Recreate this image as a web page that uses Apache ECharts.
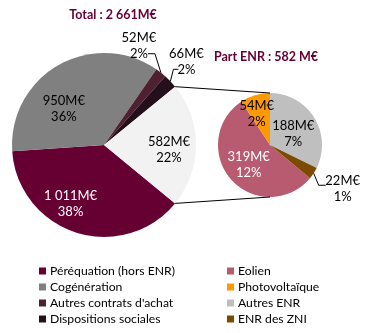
<!DOCTYPE html>
<html><head><meta charset="utf-8">
<script src="https://cdn.jsdelivr.net/npm/echarts@6/dist/echarts.min.js"></script>
<style>html,body{margin:0;padding:0;background:#fff}#c{width:383px;height:333px}</style>
</head><body><div id="c"></div>
<script>
// ---- data ----
const mainNames = ['Péréquation (hors ENR)', 'Cogénération', "Autres contrats d'achat", 'Dispositions sociales', 'Part ENR'];
const mainValues = [1011, 950, 52, 66, 582];
const mainLabels = ['1 011M€', '950M€', '52M€', '66M€', '582M€'];
const mainPct = ['38%', '36%', '2%', '2%', '22%'];
const enrNames = ['Eolien', 'Photovoltaïque', 'Autres ENR', 'ENR des ZNI'];
const enrValues = [319, 54, 188, 22];
const enrLabels = ['319M€', '54M€', '188M€', '22M€'];
const enrPct = ['12%', '2%', '7%', '1%'];
const titleMain = 'Total : 2 661M€';
const titleEnr = 'Part ENR : 582 M€';

// ---- style / geometry ----
const mainColors = ['#660033', '#808080', '#4f2030', '#24101a', '#f2f2f2'];
const enrColors = ['#b85b70', '#ff9900', '#bfbfbf', '#7d4b00'];
const FONT = 'Lato';
const C1 = [104, 145], R1 = 92, START1 = 129.4;   // compass degrees
const C2 = [270, 145], R2 = 52, START2 = 129.7;

function mids(vals, start) {
  const tot = vals.reduce((a, b) => a + b, 0);
  let a = start; const out = [], bounds = [];
  vals.forEach(v => { const s = v / tot * 360; bounds.push([a, a + s]); out.push(a + s / 2); a += s; });
  return { mids: out, bounds };
}
function pt(c, r, ang) { const t = ang * Math.PI / 180; return [c[0] + r * Math.sin(t), c[1] - r * Math.cos(t)]; }

const m1 = mids(mainValues, START1), m2 = mids(enrValues, START2);
// label tweaks (offset from polar position)
const k1 = 0.62, k2 = 0.55;
const tweak1 = [[-16, 4], [-12, 13], null, null, [8, 5]];
const tweak2 = [[0, 1], [-5, -4], [-1, 4], null];

const lbl = {
  fontFamily: FONT, fontSize: 13, lineHeight: 16, align: 'center', color: '#000'
};

const mainData = mainNames.map((n, i) => ({
  name: n, value: mainValues[i], itemStyle: { color: mainColors[i] },
  label: {
    show: true, position: (i === 2 || i === 3) ? 'outside' : 'inside',
    formatter: mainLabels[i] + '\n' + mainPct[i],
    color: i === 0 ? '#fff' : '#000'
  },
  labelLine: { show: i === 2 || i === 3, lineStyle: { color: '#000', width: 1 } }
}));
const enrData = enrNames.map((n, i) => ({
  name: n, value: enrValues[i], itemStyle: { color: enrColors[i] },
  label: {
    show: true, position: i === 3 ? 'outside' : 'inside',
    formatter: enrLabels[i] + '\n' + enrPct[i],
    color: i === 0 ? '#fff' : '#000'
  },
  labelLine: { show: i === 3, lineStyle: { color: '#000', width: 1 } }
}));

function layout1(p) {
  const i = p.dataIndex;
  if (i === 2 || i === 3) {
    const s = pt(C1, R1, m1.mids[i]);
    if (i === 2) {
      const b = [s[0] - 6, s[1] - 19], c = [b[0] - 7, b[1]];
      return { x: c[0] - 9, y: c[1] - 8, align: 'center', verticalAlign: 'middle', labelLinePoints: [s, b, c] };
    } else {
      const b = [s[0] + 3, s[1] - 12], c = [b[0] + 5, b[1]];
      return { x: c[0] + 8, y: c[1] - 8, align: 'center', verticalAlign: 'middle', labelLinePoints: [s, b, c] };
    }
  }
  const q = pt(C1, R1 * k1, m1.mids[i]);
  return { x: q[0] + tweak1[i][0], y: q[1] + tweak1[i][1], align: 'center', verticalAlign: 'middle' };
}
function layout2(p) {
  const i = p.dataIndex;
  if (i === 3) {
    const s = pt(C2, R2, m2.mids[i]);
    const b = [s[0] + 5, s[1] + 12], c = [b[0] + 7, b[1]];
    return { x: c[0] + 17, y: c[1] + 4, align: 'center', verticalAlign: 'middle', labelLinePoints: [s, b, c] };
  }
  const q = pt(C2, R2 * k2, m2.mids[i]);
  return { x: q[0] + tweak2[i][0], y: q[1] + tweak2[i][1], align: 'center', verticalAlign: 'middle' };
}

// connector lines from the ENR slice edges to the top / bottom of the second pie
const enrB = m1.bounds[4];
const pA = pt(C1, R1, enrB[0]), pB = pt(C1, R1, enrB[1]);
const qA = pt(C2, R2, 0), qB = pt(C2, R2, 180);

const legendText = { fontFamily: FONT, fontSize: 12.2, color: '#000', padding: [0, 0, 0, -1], lineHeight: 14 };
const chart = echarts.init(document.getElementById('c'), null, { renderer: 'canvas' });
chart.setOption({
  animation: false,
  backgroundColor: '#fff',
  textStyle: { fontFamily: FONT },
  legend: [
    { data: mainNames.slice(0, 4), orient: 'vertical', left: 34, top: 259, icon: 'rect',
      itemWidth: 7, itemHeight: 7, itemGap: 2, selectedMode: false, textStyle: legendText },
    { data: enrNames, orient: 'vertical', left: 222, top: 259, icon: 'rect',
      itemWidth: 7, itemHeight: 7, itemGap: 2, selectedMode: false, textStyle: legendText }
  ],
  graphic: [
    { type: 'text', x: 113, y: 15, style: { text: titleMain, font: 'bold 12.5px ' + FONT, fill: '#660033', textAlign: 'center', textVerticalAlign: 'middle' } },
    { type: 'text', x: 266, y: 57, style: { text: titleEnr, font: 'bold 12.5px ' + FONT, fill: '#660033', textAlign: 'center', textVerticalAlign: 'middle' } },
    { type: 'line', shape: { x1: pA[0], y1: pA[1], x2: qA[0], y2: qA[1] }, style: { stroke: '#000', lineWidth: 1 }, z: 10 },
    { type: 'line', shape: { x1: pB[0], y1: pB[1], x2: qB[0], y2: qB[1] }, style: { stroke: '#000', lineWidth: 1 }, z: 10 }
  ],
  series: [
    { type: 'pie', center: C1, radius: [0, R1], startAngle: 90 - START1, clockwise: true,
      data: mainData, label: lbl, labelLayout: layout1, avoidLabelOverlap: false,
      itemStyle: { borderWidth: 0 }, emphasis: { disabled: true }, silent: true },
    { type: 'pie', center: C2, radius: [0, R2], startAngle: 90 - START2, clockwise: true,
      data: enrData, label: lbl, labelLayout: layout2, avoidLabelOverlap: false,
      itemStyle: { borderWidth: 0 }, emphasis: { disabled: true }, silent: true }
  ]
});
</script></body></html>
